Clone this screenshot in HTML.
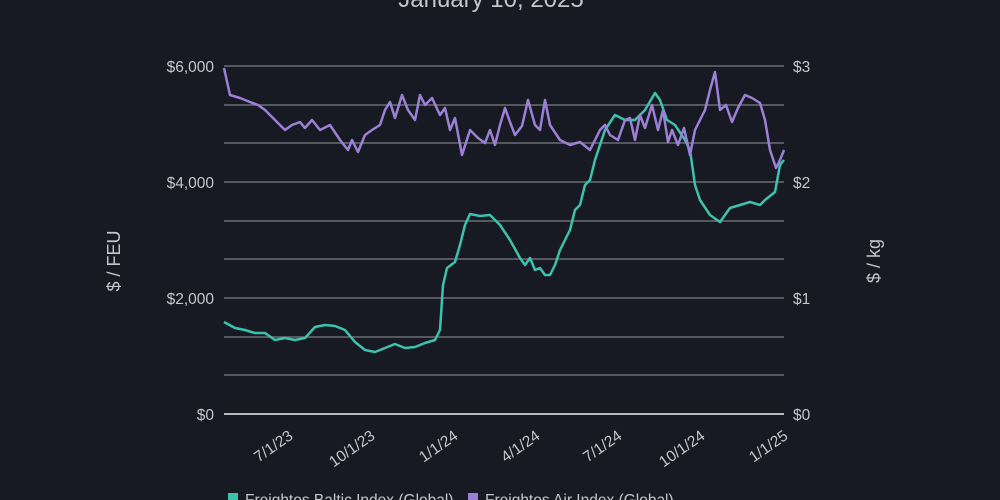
<!DOCTYPE html>
<html><head><meta charset="utf-8"><style>
html,body{margin:0;padding:0;background:#171a22;}
svg{display:block}
text{font-family:"Liberation Sans",sans-serif;fill:#c4c6cc;}
</style></head><body>
<svg width="1000" height="500" viewBox="0 0 1000 500">
<rect width="1000" height="500" fill="#171a22"/>
<text x="491" y="7" font-size="24" text-anchor="middle">January 10, 2025</text>
<g stroke="#6a6c72" stroke-width="1.5">
<line x1="224" x2="784" y1="66" y2="66"/><line x1="224" x2="784" y1="105" y2="105"/>
<line x1="224" x2="784" y1="143" y2="143"/><line x1="224" x2="784" y1="182" y2="182"/>
<line x1="224" x2="784" y1="221" y2="221"/><line x1="224" x2="784" y1="259" y2="259"/>
<line x1="224" x2="784" y1="298" y2="298"/><line x1="224" x2="784" y1="337" y2="337"/>
<line x1="224" x2="784" y1="375" y2="375"/>
</g>
<line x1="224" x2="784" y1="414" y2="414" stroke="#b8bac0" stroke-width="2"/>
<g font-size="15.5" text-anchor="end">
<text x="214" y="72">$6,000</text><text x="214" y="188">$4,000</text>
<text x="214" y="304">$2,000</text><text x="214" y="420">$0</text>
</g>
<g font-size="15.5">
<text x="793" y="72">$3</text><text x="793" y="188">$2</text>
<text x="793" y="304">$1</text><text x="793" y="420">$0</text>
</g>
<text transform="translate(120,261) rotate(-90)" font-size="18" text-anchor="middle">$ / FEU</text>
<text transform="translate(880,261) rotate(-90)" font-size="18" text-anchor="middle">$ / kg</text>
<g font-size="15.5" text-anchor="end">
<text transform="translate(294,438) rotate(-35)">7/1/23</text>
<text transform="translate(376,438) rotate(-35)">10/1/23</text>
<text transform="translate(459,438) rotate(-35)">1/1/24</text>
<text transform="translate(541,438) rotate(-35)">4/1/24</text>
<text transform="translate(623,438) rotate(-35)">7/1/24</text>
<text transform="translate(706,438) rotate(-35)">10/1/24</text>
<text transform="translate(789,438) rotate(-35)">1/1/25</text>
</g>
<polyline fill="none" stroke="#3cc2ad" stroke-width="2.5" stroke-linejoin="round" points="224,322 235,328 245,330 255,333 265,333 275,340 285,338 295,340 305,338 315,327 325,325 335,326 345,330 355,342 365,350 375,352 385,348 395,344 405,348 415,347 425,343 435,340 440,330 443,285 447,268 455,262 460,245 465,225 470,214 480,216 490,215 500,225 510,240 520,258 525,265 530,258 535,270 540,268 545,275 550,275 555,265 560,250 570,230 575,210 580,205 585,185 590,180 595,160 605,130 615,115 625,120 635,120 645,110 655,93 660,100 667,120 675,125 685,140 690,150 695,185 700,200 710,215 720,222 730,208 740,205 750,202 760,205 765,200 775,192 780,165 784,160"/>
<polyline fill="none" stroke="#9b80d6" stroke-width="2.5" stroke-linejoin="round" points="224,68 230,95 240,98 250,102 258,105 265,110 275,120 285,130 292,125 300,122 305,128 312,120 320,130 330,125 340,140 348,150 352,140 358,152 365,135 372,130 380,125 385,110 390,102 395,118 402,95 408,110 415,120 420,95 425,105 432,98 440,115 445,108 450,130 455,118 462,155 470,130 478,138 485,143 490,130 495,145 500,125 505,108 510,122 515,135 522,126 528,100 535,125 540,130 545,100 550,125 560,140 570,145 580,142 590,150 600,130 605,125 610,135 618,140 625,120 630,118 635,140 640,115 645,128 652,105 658,130 663,110 668,142 672,130 678,145 684,128 690,155 695,130 700,120 705,110 710,90 715,72 720,110 726,105 732,122 738,108 745,95 752,98 760,103 765,120 770,150 776,168 780,160 784,150"/>
<rect x="228" y="493" width="10" height="10" fill="#3cc2ad"/>
<text x="245" y="505" font-size="15.5">Freightos Baltic Index (Global)</text>
<rect x="468" y="493" width="10" height="10" fill="#9b80d6"/>
<text x="485" y="505" font-size="15.5">Freightos Air Index (Global)</text>
</svg>
</body></html>
